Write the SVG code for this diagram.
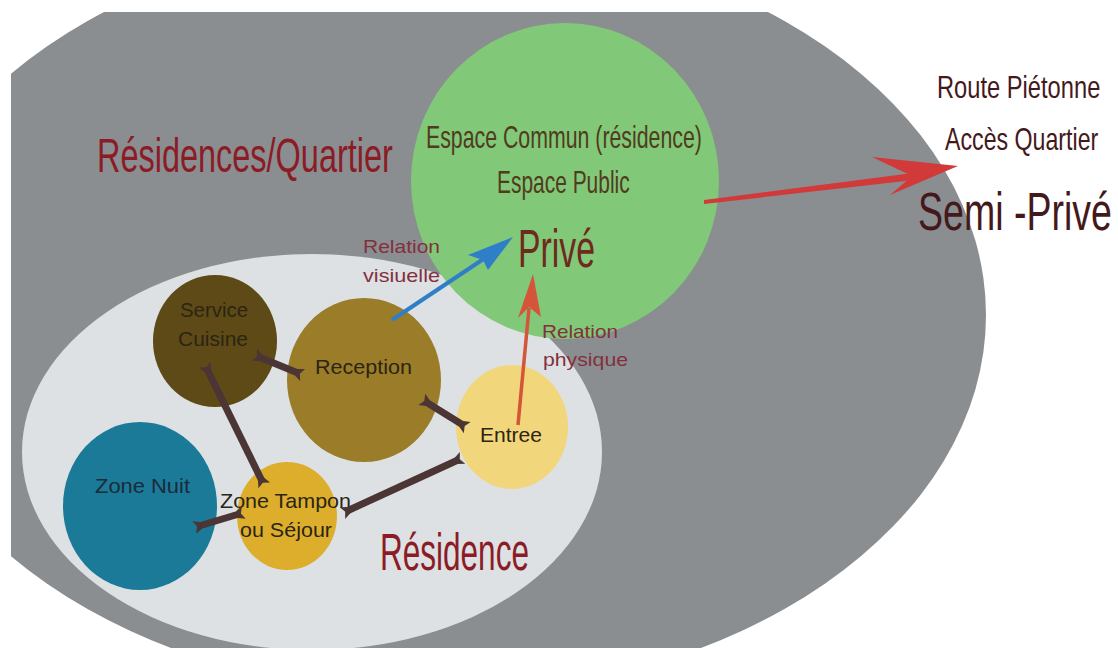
<svg xmlns="http://www.w3.org/2000/svg" width="1118" height="648" viewBox="0 0 1118 648">
<style>
text{font-family:"Liberation Sans",Arial,sans-serif;}
.head{fill:#8b1c26;}
.lbl{fill:#2b2514;font-size:21px;}
.rel{fill:#83303e;font-size:19px;}
.side{fill:#44191c;}
.esp{fill:#4f3c1c;font-size:31px;}
.conn{stroke:#4b3535;stroke-width:7;fill:none;marker-start:url(#tail);marker-end:url(#tail);}
</style>
<defs>
<clipPath id="clip"><rect x="11" y="12" width="1107" height="636"/></clipPath>
<marker id="tail" markerUnits="userSpaceOnUse" markerWidth="12" markerHeight="14" refX="0" refY="0" orient="auto-start-reverse" overflow="visible"><path d="M-2,-3.5 L5,-6.5 L2,0 L5,6.5 L-2,3.5 Z" fill="#4b3535"/></marker>
</defs>
<rect width="1118" height="648" fill="#ffffff"/>
<g id="quartier">
<ellipse cx="436" cy="315" rx="550" ry="380" fill="#8a8e91" clip-path="url(#clip)"/>
<text class="head" transform="translate(97,172) scale(0.677,1)" font-size="48" textLength="437" lengthAdjust="spacingAndGlyphs">Résidences/Quartier</text>
</g>
<g id="residence">
<ellipse cx="312" cy="452" rx="290" ry="198" fill="#dde1e4"/>
<text class="head" transform="translate(380,570) scale(0.618,1)" font-size="51" textLength="241" lengthAdjust="spacingAndGlyphs">Résidence</text>
</g>
<g id="espace-commun">
<ellipse cx="565" cy="181" rx="154" ry="158" fill="#82c879"/>
<text class="esp" transform="translate(426,148) scale(0.688,1)" textLength="401" lengthAdjust="spacingAndGlyphs">Espace Commun (résidence)</text>
<text class="esp" transform="translate(497,193) scale(0.677,1)" textLength="196" lengthAdjust="spacingAndGlyphs">Espace Public</text>
<text transform="translate(518,267) scale(0.626,1)" font-size="54" fill="#6e2a1c" textLength="123" lengthAdjust="spacingAndGlyphs">Privé</text>
</g>
<g id="service-cuisine">
<ellipse cx="215" cy="341" rx="62" ry="66" fill="#5e4a16"/>
<text class="lbl" x="180" y="317" textLength="68" lengthAdjust="spacingAndGlyphs">Service</text>
<text class="lbl" x="178" y="346" textLength="70" lengthAdjust="spacingAndGlyphs">Cuisine</text>
</g>
<g id="reception">
<ellipse cx="364" cy="380" rx="77" ry="82" fill="#9b7c28"/>
<text class="lbl" x="315" y="374" textLength="97" lengthAdjust="spacingAndGlyphs">Reception</text>
</g>
<g id="entree">
<ellipse cx="512" cy="427" rx="56" ry="62" fill="#f2d67c"/>
<text class="lbl" x="480" y="442" textLength="62" lengthAdjust="spacingAndGlyphs">Entree</text>
</g>
<g id="zone-nuit">
<ellipse cx="140" cy="506" rx="77" ry="84" fill="#1a7a98"/>
<text x="95" y="493" font-size="21" fill="#1c2a3a" textLength="95" lengthAdjust="spacingAndGlyphs">Zone Nuit</text>
</g>
<g id="zone-tampon">
<ellipse cx="287" cy="516" rx="50" ry="54" fill="#dcae2c"/>
<text class="lbl" x="220" y="508" textLength="131" lengthAdjust="spacingAndGlyphs">Zone Tampon</text>
<text class="lbl" x="240" y="537" textLength="92" lengthAdjust="spacingAndGlyphs">ou Séjour</text>
</g>
<g id="connectors">
<line class="conn" x1="259" y1="357" x2="298" y2="373"/>
<line class="conn" x1="207" y1="369" x2="262" y2="481"/>
<line class="conn" x1="426" y1="402" x2="463" y2="425"/>
<line class="conn" x1="347" y1="511" x2="458" y2="460"/>
<line class="conn" x1="199" y1="526" x2="239" y2="514"/>
<line x1="392" y1="320" x2="485" y2="258" stroke="#2f7fc8" stroke-width="4"/>
<path d="M513,237 L468,255 L483,260 L488,270 Z" fill="#2f7fc8"/>
<line x1="518" y1="425" x2="529" y2="308" stroke="#d4553a" stroke-width="3.5"/>
<path d="M533,274 L518,318 L529,307 L541,317 Z" fill="#d4553a"/>
<path d="M704,200 L913,173 L914,180 L704,204 Z" fill="#d23a3a"/>
<path d="M958,166 L872,157 L912,176 L890,195 Z" fill="#d23a3a"/>
</g>
<g id="labels">
<text class="rel" x="363" y="253" textLength="77" lengthAdjust="spacingAndGlyphs">Relation</text>
<text class="rel" x="363" y="282" textLength="77" lengthAdjust="spacingAndGlyphs">visiuelle</text>
<text class="rel" x="542" y="338" textLength="76" lengthAdjust="spacingAndGlyphs">Relation</text>
<text class="rel" x="543" y="366" textLength="85" lengthAdjust="spacingAndGlyphs">physique</text>
</g>
<g id="semi-prive">
<text class="side" transform="translate(937,98) scale(0.739,1)" font-size="32" textLength="221" lengthAdjust="spacingAndGlyphs">Route Piétonne</text>
<text class="side" transform="translate(945,150) scale(0.723,1)" font-size="32" textLength="212" lengthAdjust="spacingAndGlyphs">Accès Quartier</text>
<text class="side" transform="translate(918,230) scale(0.695,1)" font-size="54" textLength="279" lengthAdjust="spacingAndGlyphs">Semi -Privé</text>
</g>
</svg>
